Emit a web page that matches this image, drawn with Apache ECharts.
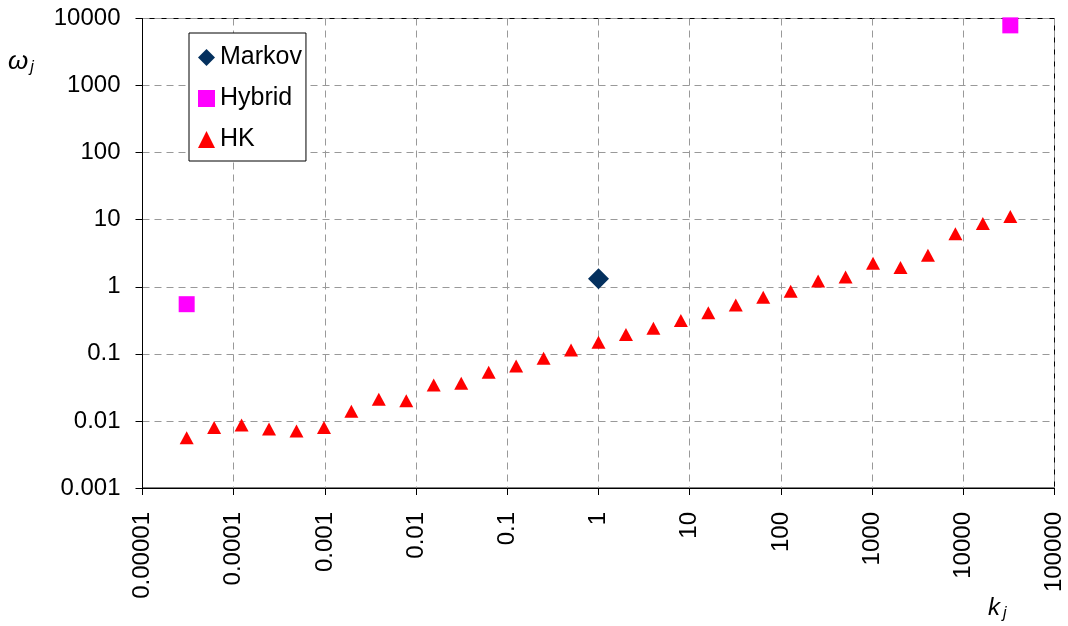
<!DOCTYPE html>
<html>
<head>
<meta charset="utf-8">
<script src="https://cdn.jsdelivr.net/npm/echarts@6/dist/echarts.min.js"></script>
<style>
html,body{margin:0;padding:0;background:#fff;}
#chart{width:1068px;height:626px;}
</style>
</head>
<body>
<div id="chart"></div>
<script>
// k_j positions (x values)
var kValues = [0.0000305, 0.000061, 0.000122, 0.000244, 0.000488, 0.000977, 0.00195, 0.0039, 0.0078, 0.0156,
  0.03125, 0.0625, 0.125, 0.25, 0.5, 1, 2, 4, 8, 16, 32, 64, 128, 256, 512, 1024, 2048, 4096, 8192, 16384, 32768];
// HK omega values
var hkValues = [0.0056, 0.0080, 0.0087, 0.0076, 0.0071, 0.0080, 0.0139, 0.0211, 0.0200, 0.0344,
  0.0363, 0.053, 0.066, 0.086, 0.114, 0.149, 0.195, 0.240, 0.314, 0.41, 0.537, 0.70, 0.86, 1.22, 1.40,
  2.24, 1.94, 2.95, 6.2, 8.8, 11.2];
// Hybrid points
var hybridK = [0.0000305, 32768];
var hybridValues = [0.55, 7900];
// Markov point
var markovK = [1];
var markovValues = [1.32];
// Tick labels
var xTickLabels = ['0.00001','0.0001','0.001','0.01','0.1','1','10','100','1000','10000','100000'];
var yTickLabels = ['0.001','0.01','0.1','1','10','100','1000','10000'];

function pairs(xs, ys){ return xs.map(function(x,i){ return [x, ys[i]]; }); }

var FONT = '"Liberation Sans", Arial, sans-serif';
var chart = echarts.init(document.getElementById('chart'), null, {renderer:'canvas'});

var gridLine = {show:true, lineStyle:{color:'#999999', width:1, type:[7,5]}};

chart.setOption({
  animation:false,
  backgroundColor:'#ffffff',
  grid:{left:142.5, right:13.5, top:18.5, bottom:138, show:true, borderColor:'#000', borderWidth:1, backgroundColor:'transparent'},
  xAxis:{
    type:'log', logBase:10, min:0.00001, max:100000, interval:1,
    axisLine:{show:true, lineStyle:{color:'#000', width:1}},
    axisTick:{show:true, inside:false, length:7, lineStyle:{color:'#000'}},
    minorTick:{show:false},
    splitLine:gridLine,
    axisLabel:{
      rotate:90, margin:24, color:'#000', fontSize:24, fontFamily:FONT, showMinLabel:true, showMaxLabel:true,
      formatter:function(v){ var i=Math.round(Math.log10(v))+5; return xTickLabels[i]||''; }
    }
  },
  yAxis:{
    type:'log', logBase:10, min:0.001, max:10000, interval:1,
    axisLine:{show:true, lineStyle:{color:'#000', width:1}},
    axisTick:{show:true, inside:false, length:7, lineStyle:{color:'#000'}},
    minorTick:{show:false},
    splitLine:gridLine,
    axisLabel:{
      margin:22, color:'#000', fontSize:24, fontFamily:FONT,
      formatter:function(v){ var i=Math.round(Math.log10(v))+3; return yTickLabels[i]||''; }
    }
  },
  legend:{
    orient:'vertical', left:189, top:33,
    padding:[12,4,9,9],
    itemWidth:17, itemHeight:17, itemGap:16,
    backgroundColor:'#fff', borderColor:'#000', borderWidth:1, borderRadius:0,
    textStyle:{color:'#000', fontSize:25, fontFamily:FONT, lineHeight:24},
    data:['Markov','Hybrid','HK']
  },
  graphic:[
    {type:'text', left:8, top:49, style:{
      text:'{w|ω}{s|j}', rich:{
        w:{fontSize:26, fontStyle:'italic', fontFamily:FONT, fill:'#000', color:'#000'},
        s:{fontSize:16, fontStyle:'italic', fontFamily:FONT, fill:'#000', color:'#000', verticalAlign:'bottom', padding:[12,0,0,2]}
      }}},
    {type:'text', left:988, top:596, style:{
      text:'{w|k}{s|j}', rich:{
        w:{fontSize:24, fontStyle:'italic', fontFamily:FONT, fill:'#000', color:'#000'},
        s:{fontSize:16, fontStyle:'italic', fontFamily:FONT, fill:'#000', color:'#000', verticalAlign:'bottom', padding:[12,0,0,3]}
      }}}
  ],
  series:[
    {name:'Markov', type:'scatter', symbol:'diamond', symbolSize:21, z:3,
      itemStyle:{color:'#04305E', opacity:1}, data:pairs(markovK, markovValues)},
    {name:'Hybrid', type:'scatter', symbol:'rect', symbolSize:16, z:3,
      itemStyle:{color:'#FF00FF', opacity:1}, data:pairs(hybridK, hybridValues)},
    {name:'HK', type:'scatter', symbol:'triangle', symbolSize:[14,13], z:3,
      itemStyle:{color:'#FF0000', opacity:1}, data:pairs(kValues, hkValues)}
  ]
});
</script>
</body>
</html>
